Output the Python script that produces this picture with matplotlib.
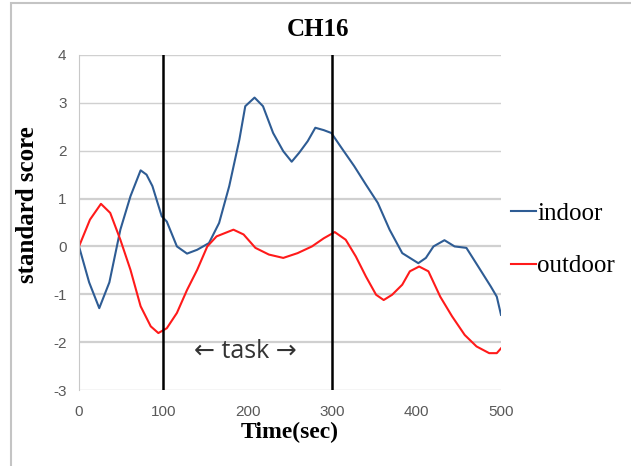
import matplotlib
matplotlib.use('Agg')
import matplotlib.pyplot as plt
from matplotlib.patches import Rectangle

plt.rcParams['axes.unicode_minus'] = False

# indoor (blue) trace
indoor_t = [0, 12, 24, 36, 49, 61, 73, 80, 87, 98, 104, 116, 128, 140, 154, 166, 178,
            190, 197, 208, 218, 230, 242, 252, 261, 271, 280, 290, 299, 311, 326, 340,
            354, 368, 383, 402, 411, 420, 433, 445, 459, 473, 488, 495, 500]
indoor_v = [0, -0.75, -1.29, -0.75, 0.35, 1.05, 1.59, 1.5, 1.26, 0.63, 0.52, 0, -0.15,
            -0.07, 0.07, 0.49, 1.26, 2.23, 2.93, 3.11, 2.93, 2.37, 1.99, 1.77, 1.96, 2.2,
            2.48, 2.43, 2.37, 2.06, 1.68, 1.29, 0.91, 0.35, -0.14, -0.35, -0.24, 0, 0.13,
            0, -0.03, -0.42, -0.84, -1.05, -1.43]

# outdoor (red) trace
outdoor_t = [0, 13, 26, 37, 49, 61, 73, 85, 94, 104, 116, 128, 140, 152, 163, 183, 195,
             209, 225, 242, 259, 276, 290, 303, 316, 328, 340, 352, 361, 371, 383, 392,
             403, 414, 428, 442, 457, 471, 486, 495, 500]
outdoor_v = [0, 0.56, 0.89, 0.7, 0.14, -0.49, -1.25, -1.67, -1.81, -1.71, -1.39, -0.91,
             -0.49, 0, 0.21, 0.35, 0.25, -0.03, -0.17, -0.24, -0.14, 0, 0.17, 0.3, 0.14,
             -0.21, -0.63, -1.01, -1.12, -1.01, -0.8, -0.52, -0.42, -0.52, -1.05, -1.46,
             -1.85, -2.09, -2.23, -2.23, -2.13]

task_bounds = [100, 300]
xticks = [0, 100, 200, 300, 400, 500]
yticks = [-3, -2, -1, 0, 1, 2, 3, 4]

serif = 'Liberation Serif'

fig = plt.figure(figsize=(6.31, 4.66), dpi=100)
fig.patches.append(Rectangle((11 / 631, -0.02), 1.0, 1.02 - 3 / 466,
                             transform=fig.transFigure, fill=False,
                             edgecolor='#c4c4c4', linewidth=1.5))
ax = fig.add_axes([79 / 631, 1 - 390 / 466, 422 / 631, 335 / 466])

for y in yticks:
    ax.axhline(y, color='#d0d0d0', linewidth=1.6 if -2 <= y <= 1 else 1.0, zorder=0)

ax.plot(indoor_t, indoor_v, color='#2e5c94', linewidth=1.5, label='indoor')
ax.plot(outdoor_t, outdoor_v, color='#ff1a1a', linewidth=1.5, label='outdoor')
for b in task_bounds:
    ax.axvline(b, color='black', linewidth=1.8)

ax.text(197, -2.2, '← task →', ha='center', va='center', fontsize=18,
        color='#333333', family=['Open Sans', 'DejaVu Sans'])

ax.set_xlim(0, 500)
ax.set_ylim(-3, 4)
ax.set_xticks(xticks)
ax.set_yticks(yticks)
for s in ['top', 'right', 'bottom']:
    ax.spines[s].set_visible(False)
ax.spines['left'].set_color('#c8c8c8')
ax.tick_params(length=0, labelsize=11, labelcolor='#595959', pad=11)
ax.tick_params(axis='y', pad=9)
for lab in ax.get_xticklabels() + ax.get_yticklabels():
    lab.set_family('Liberation Sans')

ax.set_title('CH16', fontsize=18, fontweight='bold', family=serif, x=0.566, pad=14)
ax.set_xlabel('Time(sec)', fontsize=17, fontweight='bold', family=serif, labelpad=2)
ax.set_ylabel('standard score', fontsize=18, fontweight='bold', family=serif)
ax.yaxis.set_label_coords(-0.095, 0.552)

leg = ax.legend(loc='center left', bbox_to_anchor=(1.024, 0.448), frameon=False,
                borderaxespad=0, borderpad=0,
                handlelength=1.0, handletextpad=0.05, labelspacing=1.2,
                prop={'family': serif, 'size': 18})

fig.savefig('out.png', dpi=100)
